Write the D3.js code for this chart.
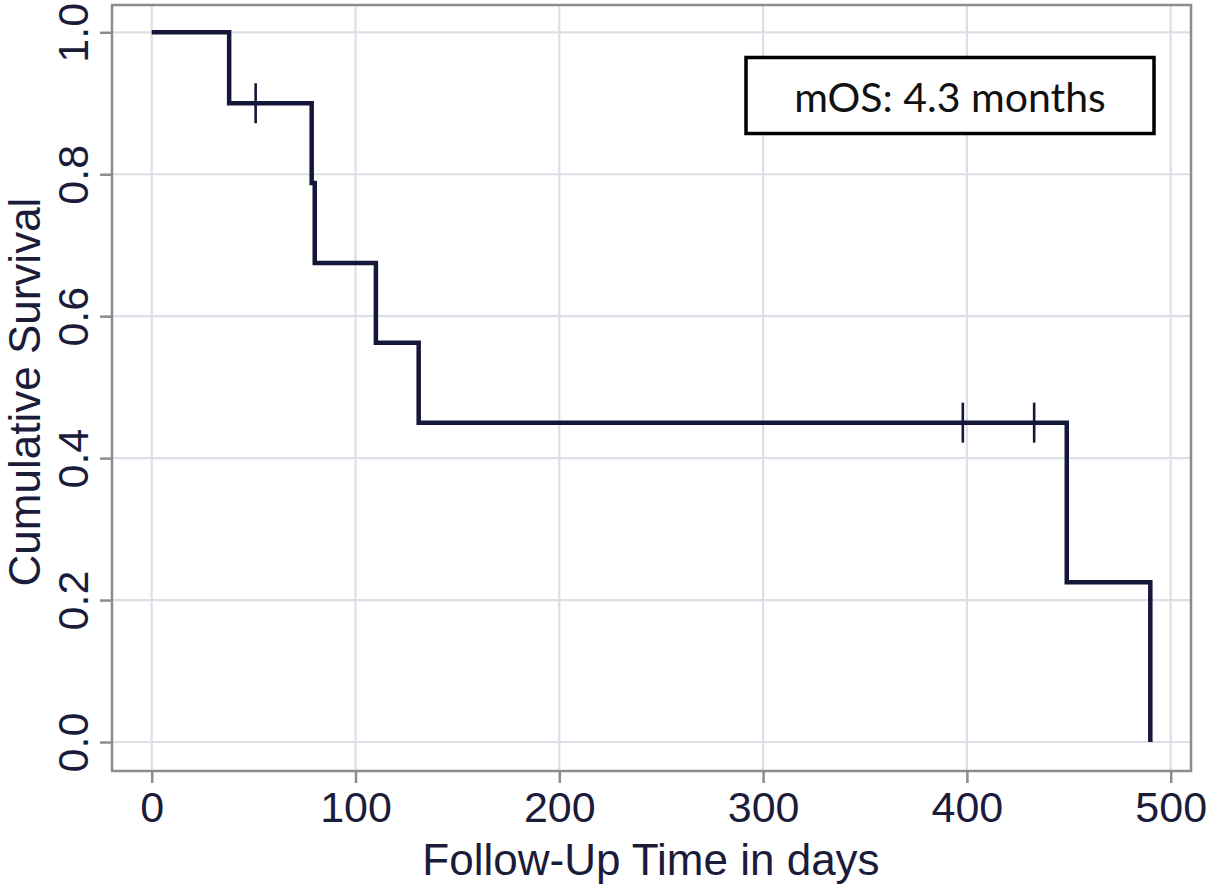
<!DOCTYPE html>
<html>
<head>
<meta charset="utf-8">
<script src="https://cdn.jsdelivr.net/npm/d3@7"></script>
<style>
  body { margin: 0; background: #fff; }
  svg text { font-family: "Liberation Sans", Arial, sans-serif; fill: #1b1b3a; }
</style>
</head>
<body>
<div id="grafico"></div>
<script>
// Kaplan-Meier curve
const eventDays = [0, 38, 78.5, 80, 110, 131, 449, 490];
const survival  = [1, 0.9, 0.7875, 0.675, 0.5625, 0.45, 0.225, 0];
const censorDays = [51, 398, 433];
const censorSurv = [0.9, 0.45, 0.45];
const xTicks = [0, 100, 200, 300, 400, 500];
const yTicks = [0, 0.2, 0.4, 0.6, 0.8, 1.0];
const note = "mOS: 4.3 months";

// sizes
const W = 1210, H = 889;
const plot = { left: 112, right: 1191, top: 5, bottom: 771 };

const svg = d3.select("#grafico")
  .append("svg")
    .attr("width", W)
    .attr("height", H);

const x = d3.scaleLinear().domain([0, 500]).range([151.7, 1170.7]);
const y = d3.scaleLinear().domain([0, 1]).range([742, 32.3]);

// grid
svg.append("g").selectAll("line.gx")
  .data(xTicks).join("line")
    .attr("x1", d => x(d)).attr("x2", d => x(d))
    .attr("y1", plot.top).attr("y2", plot.bottom)
    .attr("stroke", "#dcdfe8").attr("stroke-width", 2.2);
svg.append("g").selectAll("line.gy")
  .data(yTicks).join("line")
    .attr("y1", d => y(d)).attr("y2", d => y(d))
    .attr("x1", plot.left).attr("x2", plot.right)
    .attr("stroke", "#dcdfe8").attr("stroke-width", 2.2);

// frame
svg.append("rect")
  .attr("x", plot.left).attr("y", plot.top)
  .attr("width", plot.right - plot.left)
  .attr("height", plot.bottom - plot.top)
  .attr("fill", "none")
  .attr("stroke", "#8c8c8e").attr("stroke-width", 2.5);

// axes
const xAxis = svg.append("g")
  .attr("transform", `translate(0,${plot.bottom})`)
  .call(d3.axisBottom(x).tickValues(xTicks).tickSize(12).tickPadding(8).tickFormat(d3.format("d")));
xAxis.select(".domain").remove();
xAxis.selectAll("line").attr("stroke", "#8c8c8e").attr("stroke-width", 2.5);
xAxis.selectAll("text").attr("font-size", 43).attr("fill", "#1b1b3a")
  .attr("font-family", "Liberation Sans, Arial, sans-serif");

const yAxis = svg.append("g")
  .attr("transform", `translate(${plot.left},0)`)
  .call(d3.axisLeft(y).tickValues(yTicks).tickSize(12).tickFormat(d3.format(".1f")));
yAxis.select(".domain").remove();
yAxis.selectAll("line").attr("stroke", "#8c8c8e").attr("stroke-width", 2.5);
yAxis.selectAll("text")
  .attr("font-size", 43).attr("fill", "#1b1b3a")
  .attr("font-family", "Liberation Sans, Arial, sans-serif")
  .attr("text-anchor", "middle")
  .attr("dy", 0)
  .attr("x", 0)
  .attr("transform", "translate(-24,0) rotate(-90)");

// axis titles
svg.append("text")
  .attr("x", 651).attr("y", 875)
  .attr("text-anchor", "middle")
  .attr("font-size", 44)
  .text("Follow-Up Time in days");
svg.append("text")
  .attr("transform", "translate(40,392) rotate(-90)")
  .attr("text-anchor", "middle")
  .attr("font-size", 44)
  .text("Cumulative Survival");

// KM curve
const km = eventDays.map((d, i) => [d, survival[i]]);
svg.append("path")
  .datum(km)
  .attr("fill", "none")
  .attr("stroke", "#15173a")
  .attr("stroke-width", 4.5)
  .attr("stroke-linejoin", "miter")
  .attr("d", d3.line().x(d => x(d[0])).y(d => y(d[1])).curve(d3.curveStepAfter));

// censor marks
svg.append("g").selectAll("line")
  .data(censorDays.map((d, i) => [d, censorSurv[i]]))
  .join("line")
    .attr("x1", d => x(d[0])).attr("x2", d => x(d[0]))
    .attr("y1", d => y(d[1]) - 20).attr("y2", d => y(d[1]) + 20)
    .attr("stroke", "#15173a").attr("stroke-width", 2.6);

// mOS box
const box = svg.append("g");
box.append("rect")
  .attr("x", 746).attr("y", 57.5)
  .attr("width", 408).attr("height", 76)
  .attr("fill", "#fff")
  .attr("stroke", "#000").attr("stroke-width", 3.5);
box.append("text")
  .attr("x", 950).attr("y", 112)
  .attr("text-anchor", "middle")
  .attr("font-size", 41)
  .style("font-family", "Lato, 'Open Sans', sans-serif")
  .style("fill", "#111")
  .text(note);
</script>
</body>
</html>
